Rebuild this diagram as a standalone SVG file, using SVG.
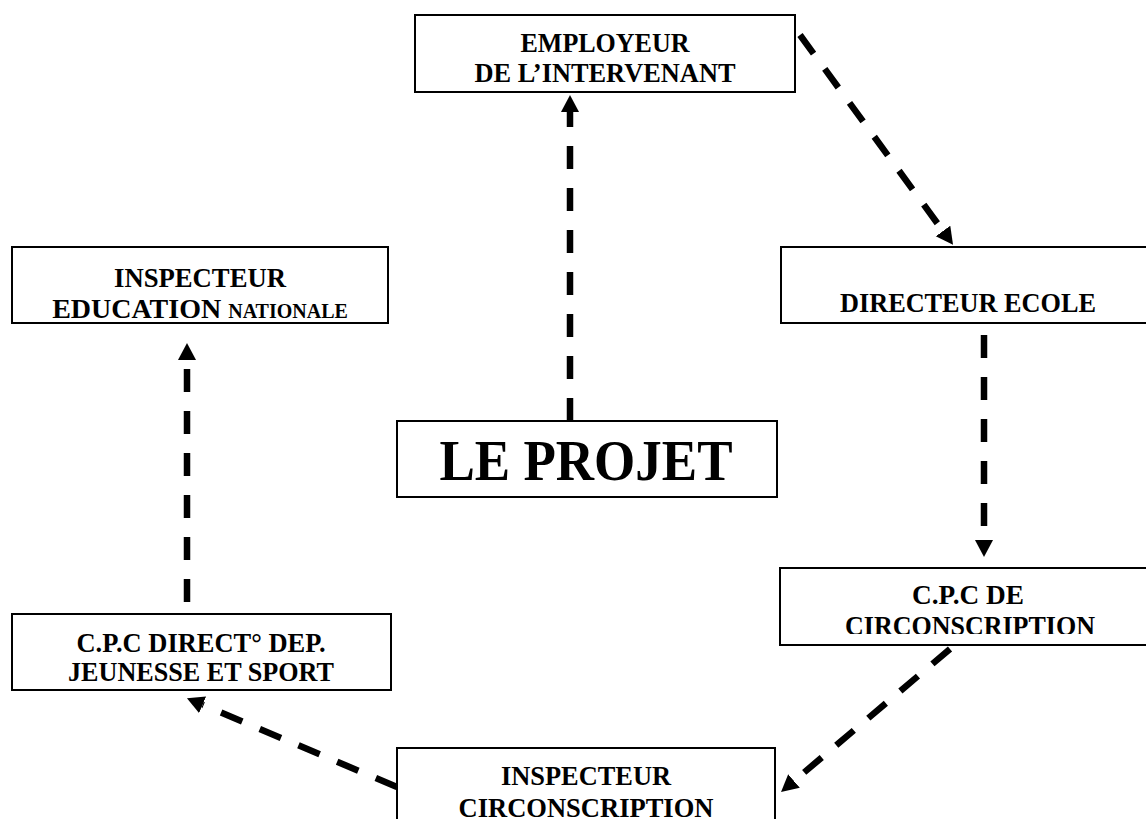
<svg xmlns="http://www.w3.org/2000/svg" width="1146" height="819" viewBox="0 0 1146 819">
<style>
.box{fill:#fff;stroke:#000;stroke-width:2}
.t{font-family:"Liberation Serif","Times New Roman",serif;font-weight:bold;font-size:28px;text-anchor:middle;fill:#000}
.big{font-size:56px}
.sm{font-size:20px}
.c{fill:none;stroke:#000;stroke-width:6.5;stroke-dasharray:23 19}
</style>
<defs>
<marker id="ah" markerUnits="userSpaceOnUse" markerWidth="20" markerHeight="20" refX="0" refY="9" orient="auto">
<path d="M0,0 L17,9 L0,18 Z" fill="#000"/>
</marker>
<clipPath id="clipCpc"><rect x="780" y="560" width="366" height="74"/></clipPath>
</defs>
<rect width="1146" height="819" fill="#fff"/>
<g id="connectors">
<line class="c" x1="570" y1="421" x2="570" y2="112" marker-end="url(#ah)"/>
<line class="c" x1="800" y1="35" x2="943" y2="231" marker-end="url(#ah)"/>
<line class="c" x1="984" y1="335" x2="984" y2="540" marker-end="url(#ah)"/>
<line class="c" x1="950" y1="649" x2="794" y2="781" marker-end="url(#ah)"/>
<line class="c" x1="397" y1="787" x2="202.6" y2="704.8" marker-end="url(#ah)"/>
<line class="c" x1="187" y1="602" x2="187" y2="360" marker-end="url(#ah)"/>
</g>
<g id="employeur">
<rect class="box" x="415" y="15" width="380" height="77"/>
<text class="t" x="605" y="52" textLength="169" lengthAdjust="spacingAndGlyphs">EMPLOYEUR</text>
<text class="t" x="605" y="82" textLength="261" lengthAdjust="spacingAndGlyphs">DE L’INTERVENANT</text>
</g>
<g id="inspecteur-en">
<rect class="box" x="12" y="247" width="376" height="76"/>
<text class="t" x="200" y="287" textLength="172" lengthAdjust="spacingAndGlyphs">INSPECTEUR</text>
<text class="t" x="200" y="318">EDUCATION <tspan class="sm">NATIONALE</tspan></text>
</g>
<g id="directeur">
<rect class="box" x="781" y="247" width="370" height="76"/>
<text class="t" x="968" y="312" textLength="256" lengthAdjust="spacingAndGlyphs">DIRECTEUR ECOLE</text>
</g>
<g id="projet">
<rect class="box" x="397" y="421" width="380" height="76"/>
<text class="t big" x="586" y="480" textLength="293" lengthAdjust="spacingAndGlyphs">LE PROJET</text>
</g>
<g id="cpc-circ">
<rect class="box" x="780" y="568" width="370" height="77"/>
<text class="t" x="968" y="604" textLength="112" lengthAdjust="spacingAndGlyphs">C.P.C DE</text>
<text class="t" x="970" y="635" textLength="250" lengthAdjust="spacingAndGlyphs" clip-path="url(#clipCpc)">CIRCONSCRIPTION</text>
</g>
<g id="cpc-dep">
<rect class="box" x="12" y="614" width="379" height="76"/>
<text class="t" x="201" y="652" textLength="249" lengthAdjust="spacingAndGlyphs">C.P.C DIRECT° DEP.</text>
<text class="t" x="201" y="681" textLength="266" lengthAdjust="spacingAndGlyphs">JEUNESSE ET SPORT</text>
</g>
<g id="inspecteur-circ">
<rect class="box" x="397" y="748" width="378" height="80"/>
<text class="t" x="586" y="785" textLength="170" lengthAdjust="spacingAndGlyphs">INSPECTEUR</text>
<text class="t" x="586" y="817" textLength="255" lengthAdjust="spacingAndGlyphs">CIRCONSCRIPTION</text>
</g>
</svg>
